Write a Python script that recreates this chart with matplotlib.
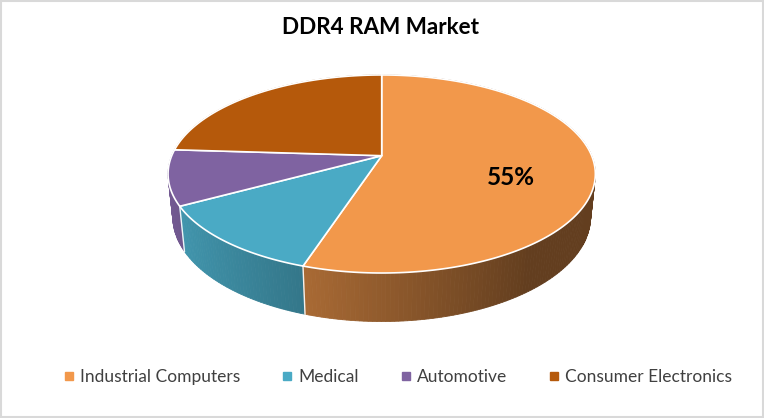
import numpy as np
import matplotlib
matplotlib.use("Agg")
import matplotlib.pyplot as plt
from matplotlib.patches import Polygon, Rectangle
from matplotlib.lines import Line2D
import matplotlib.colors as mcolors

# ---- data ----
categories = ["Industrial Computers", "Medical", "Automotive", "Consumer Electronics"]
shares = [55, 12, 9, 24]
colors = ["#F2984B", "#4AAAC5", "#7F63A1", "#B5590B"]
title = "DDR4 RAM Market"
labeled = [True, False, False, False]

# ---- projection setup (perspective 3D pie) ----
W, H = 764, 418
cx, cy = 381.7, 155.7
F = 1012.0
Dcam = 4.82
alpha = np.deg2rad(27.1)
sa, ca = np.sin(alpha), np.cos(alpha)
thick = 0.231

def proj(theta_deg, r=1.0, z=0.0):
    t = np.deg2rad(np.asarray(theta_deg, dtype=float))
    X = r * np.sin(t)
    Y = r * np.cos(t)
    depth = Dcam + Y * ca - z * sa
    px = cx + F * X / depth
    py = cy - F * (Y * sa + z * ca) / depth
    return px, py, depth

fig = plt.figure(figsize=(W / 100, H / 100), dpi=100)
ax = fig.add_axes([0, 0, 1, 1])
ax.set_xlim(0, W)
ax.set_ylim(H, 0)
ax.axis("off")

fracs = np.array(shares, dtype=float) / sum(shares)
bounds = np.concatenate([[0], np.cumsum(fracs) * 360.0])

def shade(theta):
    c = np.cos(np.deg2rad(theta - 270.0))
    return float(np.clip(0.60 + 0.32 * c, 0.41, 1.0))

# side quads
quads = []
step = 1.0
for i in range(len(shares)):
    a0, a1 = bounds[i], bounds[i + 1]
    n = max(2, int(np.ceil((a1 - a0) / step)))
    ts = np.linspace(a0, a1, n + 1)
    base = np.array(mcolors.to_rgb(colors[i]))
    for j in range(n):
        t0, t1 = ts[j], ts[j + 1]
        x0, y0, d0 = proj(t0)
        x1, y1, d1 = proj(t1)
        x2, y2, _ = proj(t1, z=-thick)
        x3, y3, _ = proj(t0, z=-thick)
        tm = 0.5 * (t0 + t1)
        col = np.clip(base * shade(tm), 0, 1)
        quads.append(((d0 + d1) / 2, [(x0, y0), (x1, y1), (x2, y2), (x3, y3)], col))

quads.sort(key=lambda q: -q[0])
for _, pts, col in quads:
    ax.add_patch(Polygon(pts, closed=True, facecolor=col, edgecolor=col, lw=0.6))

# vertical white lines at slice boundaries on front side
for b in bounds[1:-1]:
    if 90 < (b % 360) < 270:
        xa, ya, _ = proj(b)
        xb, yb, _ = proj(b, z=-thick)
        ax.plot([xa, xb], [ya, yb], color="white", lw=1.0, alpha=0.9)

# top faces
for i in range(len(shares)):
    a0, a1 = bounds[i], bounds[i + 1]
    ts = np.linspace(a0, a1, 200)
    xs, ys, _ = proj(ts)
    vx, vy, _ = proj(0.0, r=0.0)
    pts = [(vx, vy)] + list(zip(xs, ys))
    ax.add_patch(Polygon(pts, closed=True, facecolor=colors[i], edgecolor="white",
                         lw=1.2, joinstyle="round"))

# data label
for i in range(len(shares)):
    if labeled[i]:
        mid = 0.5 * (bounds[i] + bounds[i + 1])
        lx, ly, _ = proj(mid, r=0.615, z=-thick / 4)
        ax.text(lx, ly + 1.5, f"{shares[i]}%", ha="center", va="center",
                fontsize=17.5, fontweight="bold", family="Lato", color="black")

# title
ax.text(380, 27, title, ha="center", va="center", fontsize=16.2,
        fontweight="bold", family="Lato", color="black")

# legend
handles = [Line2D([], [], marker="s", ls="none", markersize=5.5,
                  markerfacecolor=c, markeredgecolor=c) for c in colors]
leg = ax.legend(handles, categories, ncol=4, loc="center",
                bbox_to_anchor=(398 / W, 1 - 377 / H), frameon=False,
                prop={"family": "Lato", "size": 12.5},
                handlelength=0.6, handletextpad=0.35, columnspacing=2.4,
                labelcolor="#404040")

# border
ax.add_patch(Rectangle((0.75, 0.75), W - 1.5, H - 1.5, fill=False,
                       edgecolor="#D9D9D9", lw=1.5))

fig.savefig("out.png", dpi=100)
